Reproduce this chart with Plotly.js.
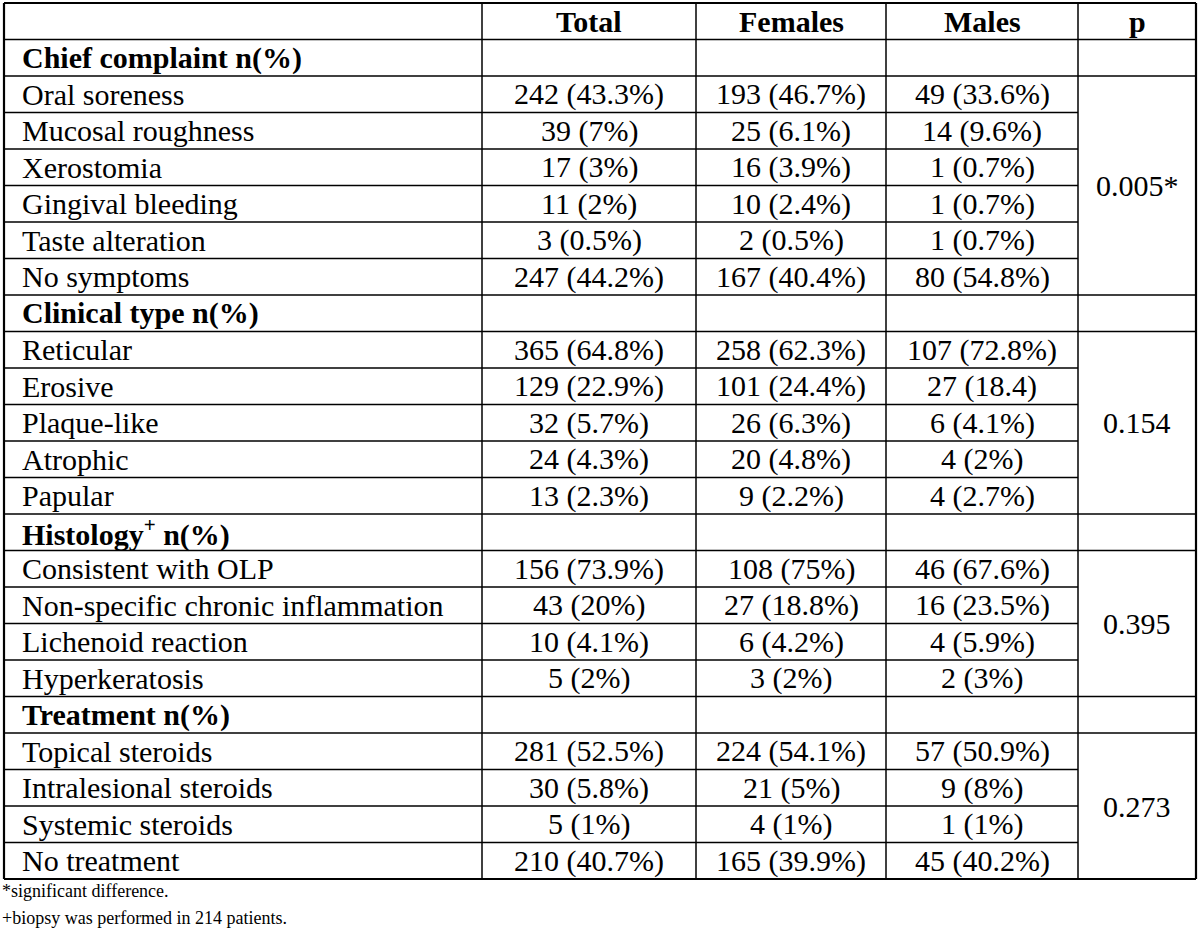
<!DOCTYPE html>
<html>
<head>
<meta charset="utf-8">
<script src="https://cdn.plot.ly/plotly-3.0.1.min.js"></script>
<style>html,body{margin:0;padding:0;background:#fff;}#chart{width:1200px;height:939px;}</style>
</head>
<body>
<div id="chart"></div>
<script>
// ---- data ----
const columnHeaders = ['', 'Total', 'Females', 'Males', 'p'];
const sectionTitles = ['Chief complaint n(%)', 'Clinical type n(%)', 'Histology<sup>+</sup> n(%)', 'Treatment n(%)'];
const chiefLabels = ['Oral soreness', 'Mucosal roughness', 'Xerostomia', 'Gingival bleeding', 'Taste alteration', 'No symptoms'];
const chiefTotal = ['242 (43.3%)', '39 (7%)', '17 (3%)', '11 (2%)', '3 (0.5%)', '247 (44.2%)'];
const chiefFemales = ['193 (46.7%)', '25 (6.1%)', '16 (3.9%)', '10 (2.4%)', '2 (0.5%)', '167 (40.4%)'];
const chiefMales = ['49 (33.6%)', '14 (9.6%)', '1 (0.7%)', '1 (0.7%)', '1 (0.7%)', '80 (54.8%)'];
const clinicalLabels = ['Reticular', 'Erosive', 'Plaque-like', 'Atrophic', 'Papular'];
const clinicalTotal = ['365 (64.8%)', '129 (22.9%)', '32 (5.7%)', '24 (4.3%)', '13 (2.3%)'];
const clinicalFemales = ['258 (62.3%)', '101 (24.4%)', '26 (6.3%)', '20 (4.8%)', '9 (2.2%)'];
const clinicalMales = ['107 (72.8%)', '27 (18.4)', '6 (4.1%)', '4 (2%)', '4 (2.7%)'];
const histologyLabels = ['Consistent with OLP', 'Non-specific chronic inflammation', 'Lichenoid reaction', 'Hyperkeratosis'];
const histologyTotal = ['156 (73.9%)', '43 (20%)', '10 (4.1%)', '5 (2%)'];
const histologyFemales = ['108 (75%)', '27 (18.8%)', '6 (4.2%)', '3 (2%)'];
const histologyMales = ['46 (67.6%)', '16 (23.5%)', '4 (5.9%)', '2 (3%)'];
const treatmentLabels = ['Topical steroids', 'Intralesional steroids', 'Systemic steroids', 'No treatment'];
const treatmentTotal = ['281 (52.5%)', '30 (5.8%)', '5 (1%)', '210 (40.7%)'];
const treatmentFemales = ['224 (54.1%)', '21 (5%)', '4 (1%)', '165 (39.9%)'];
const treatmentMales = ['57 (50.9%)', '9 (8%)', '1 (1%)', '45 (40.2%)'];
const pValues = ['0.005*', '0.154', '0.395', '0.273'];
const footnotes = ['*significant difference.', '+biopsy was performed in 214 patients.'];

// ---- layout constants ----
const colEdges = [4, 482, 696, 886, 1078, 1196];
const tableTop = 3;
const rowH = 36.5;
const FONT = 'Liberation Serif, Times New Roman, serif';
const FS = 30;

const sections = [
  {labels: chiefLabels, total: chiefTotal, fem: chiefFemales, male: chiefMales},
  {labels: clinicalLabels, total: clinicalTotal, fem: clinicalFemales, male: clinicalMales},
  {labels: histologyLabels, total: histologyTotal, fem: histologyFemales, male: histologyMales},
  {labels: treatmentLabels, total: treatmentTotal, fem: treatmentFemales, male: treatmentMales}
];

// build row list
const rows = [{type: 'header'}];
sections.forEach((s, si) => {
  rows.push({type: 'title', sec: si});
  s.labels.forEach((l, i) => rows.push({type: 'data', sec: si, idx: i}));
});
const nRows = rows.length;
const rowTop = i => tableTop + i * rowH;
const rowMid = i => tableTop + (i + 0.5) * rowH;
const colMid = c => (colEdges[c] + colEdges[c + 1]) / 2;

const shapes = [];
const annotations = [];
const line = (x0, y0, x1, y1, w) => shapes.push({type: 'line', xref: 'x', yref: 'y', x0, y0, x1, y1, line: {color: '#000', width: w}});

// horizontal lines
for (let r = 0; r <= nRows; r++) {
  const y = rowTop(r);
  const outer = (r === 0 || r === nRows);
  let xEnd = colEdges[5];
  if (r > 0 && r < nRows && rows[r - 1].type === 'data' && rows[r].type === 'data' && rows[r - 1].sec === rows[r].sec) xEnd = colEdges[4];
  line(colEdges[0], y, xEnd, y, outer ? 2.2 : 1.5);
}
// vertical lines
colEdges.forEach((x, c) => {
  const outer = (c === 0 || c === colEdges.length - 1);
  line(x, rowTop(0), x, rowTop(nRows), outer ? 2.2 : 1.5);
});

const txt = (text, x, y, xanchor, bold, size) => annotations.push({
  xref: 'x', yref: 'y', x, y, text: bold ? '<b>' + text + '</b>' : text,
  xanchor, yanchor: 'middle', showarrow: false,
  font: {family: FONT, size: size || FS, color: '#000'}
});

// header
columnHeaders.forEach((h, c) => { if (h) txt(h, colMid(c), rowMid(0), 'center', true); });

// body
rows.forEach((row, r) => {
  if (row.type === 'title') {
    txt(sectionTitles[row.sec], 20, rowMid(r), 'left', true);
  } else if (row.type === 'data') {
    const s = sections[row.sec];
    txt(s.labels[row.idx], 20, rowMid(r), 'left', false);
    txt(s.total[row.idx], colMid(1), rowMid(r), 'center', false);
    txt(s.fem[row.idx], colMid(2), rowMid(r), 'center', false);
    txt(s.male[row.idx], colMid(3), rowMid(r), 'center', false);
  }
});

// p values, centred over each section's merged cell
sections.forEach((s, si) => {
  const first = rows.findIndex(rw => rw.type === 'data' && rw.sec === si);
  const last = first + s.labels.length;
  txt(pValues[si], colMid(4), (rowTop(first) + rowTop(last)) / 2, 'center', false);
});

// footnotes
footnotes.forEach((f, i) => txt(f, 0, rowTop(nRows) + 12 + i * 27, 'left', false, 18));

const axisOff = {showgrid: false, zeroline: false, showticklabels: false, ticks: '', showline: false, fixedrange: true};
Plotly.newPlot('chart', [], {
  width: 1200, height: 939,
  margin: {l: 0, r: 0, t: 0, b: 0},
  paper_bgcolor: '#fff', plot_bgcolor: '#fff',
  xaxis: Object.assign({range: [0, 1200]}, axisOff),
  yaxis: Object.assign({range: [939, 0]}, axisOff),
  shapes, annotations, showlegend: false
}, {staticPlot: true, displayModeBar: false});
</script>
</body>
</html>
